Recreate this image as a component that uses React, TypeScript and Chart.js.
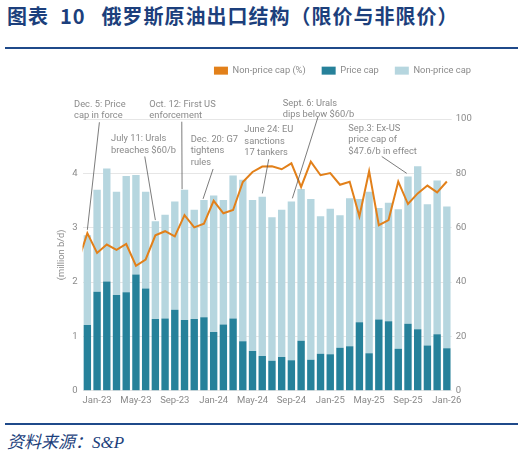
import React, { useEffect, useRef } from 'react';
import { Chart, registerables } from 'chart.js';

Chart.register(...registerables);

// ---------- data ----------
const MONTHS = [
  'Dec-22',
  'Jan-23', 'Feb-23', 'Mar-23', 'Apr-23', 'May-23', 'Jun-23', 'Jul-23', 'Aug-23', 'Sep-23', 'Oct-23', 'Nov-23', 'Dec-23',
  'Jan-24', 'Feb-24', 'Mar-24', 'Apr-24', 'May-24', 'Jun-24', 'Jul-24', 'Aug-24', 'Sep-24', 'Oct-24', 'Nov-24', 'Dec-24',
  'Jan-25', 'Feb-25', 'Mar-25', 'Apr-25', 'May-25', 'Jun-25', 'Jul-25', 'Aug-25', 'Sep-25', 'Oct-25', 'Nov-25', 'Dec-25',
  'Jan-26',
];

// million b/d
const PRICE_CAP = [
  1.21,
  1.82, 2.01, 1.76, 1.81, 2.14, 1.88, 1.32, 1.33, 1.49, 1.30, 1.32, 1.35,
  1.08, 1.22, 1.33, 0.91, 0.73, 0.64, 0.55, 0.62, 0.56, 0.92, 0.57, 0.68,
  0.67, 0.79, 0.82, 1.26, 0.69, 1.31, 1.28, 0.77, 1.23, 1.13, 0.83, 1.04,
  0.78,
];

const NON_PRICE_CAP = [
  1.65,
  1.88, 2.08, 1.90, 2.14, 1.83, 1.78, 1.80, 1.91, 1.99, 2.40, 2.01, 2.16,
  2.51, 2.29, 2.63, 2.97, 2.78, 2.93, 2.64, 2.71, 2.92, 2.79, 2.96, 2.53,
  2.68, 2.44, 2.72, 2.27, 2.97, 2.05, 2.18, 2.57, 2.71, 3.00, 2.60, 2.83,
  2.61,
];

// share of non-price-cap exports, %
const NON_PRICE_CAP_PCT = [
  58.0,
  50.7, 53.8, 51.8, 54.0, 46.0, 48.3, 57.2, 58.7, 56.8, 64.6, 60.1, 61.5,
  69.9, 65.3, 66.5, 76.8, 80.5, 82.5, 82.6, 81.5, 83.7, 75.0, 84.3, 79.3,
  80.1, 75.8, 76.9, 64.2, 80.8, 60.9, 62.8, 77.0, 68.7, 72.6, 75.5, 73.0,
  77.0,
];

// Nov-22 value: only its segment into the plot is visible (clipped at the left edge)
const LEAD_IN_PCT = 47;

const TICK_LABELS = ['Jan-23', 'May-23', 'Sep-23', 'Jan-24', 'May-24', 'Sep-24', 'Jan-25', 'May-25', 'Sep-25', 'Jan-26'];

const LEFT_TICKS_MAX = 5;
const RIGHT_TICKS_MAX = 100;

// annotations: text anchor / leader line in data units (x = month index, y = million b/d)
const NOTES = [
  { lines: ['Dec. 5: Price', 'cap in force'], text: [-1.37, 5.27], from: [1.24, 4.94], to: [0, 2.96] },
  { lines: ['Oct. 12: First US', 'enforcement'], text: [6.38, 5.27], from: [9.72, 4.95], to: [9.75, 3.71] },
  { lines: ['July 11: Urals', 'breaches $60/b'], text: [2.44, 4.63], from: [5.91, 4.31], to: [7.0, 3.14] },
  { lines: ['Dec. 20: G7', 'tightens', 'rules'], text: [10.64, 4.62], from: [12.94, 4.08], to: [11.91, 3.53] },
  { lines: ['June 24: EU', 'sanctions', '17 tankers'], text: [16.16, 4.80], from: [18.67, 4.26], to: [18.01, 3.63] },
  { lines: ['Sept. 6: Urals', 'dips below $60/b'], text: [20.11, 5.285], from: [23.74, 5.04], to: [21.1, 3.54] },
  { lines: ['Sep.3: Ex-US', 'price cap of', '$47.6/b in effect'], text: [26.86, 4.83], from: [30.3, 4.31], to: [32.87, 4.0] },
];

// ---------- styles ----------
const ORANGE = '#E2801A';
const TEAL = '#26819A';
const LIGHT = '#B6D6DF';
const GREY_TEXT = '#8a8a8a';
const GRID = '#e6e6e6';
const LEADER = '#5a5a5a';
const TITLE_BLUE = '#1C3F7C';
const RULE_BLUE = '#1F4A8A';
const FONT = 'Roboto';

const CANVAS_W = 487;
const CANVAS_H = 372;
const LEGEND_BLOCK_H = 69;
const LEFT_AXIS_W = 82.5;
const RIGHT_AXIS_W = 35.3;
const BOTTOM_AXIS_H = 31.3;
const NOTE_LINE_H = 11.5;

const legendSpacer = {
  id: 'legendSpacer',
  beforeLayout(chart: any) {
    const legend = chart.legend;
    if (legend && !legend.__spacer) {
      const fit = legend.fit;
      legend.fit = function () {
        fit.call(this);
        this.height = LEGEND_BLOCK_H;
      };
      legend.__spacer = true;
    }
  },
};

const notesPlugin = {
  id: 'notes',
  afterDraw(chart: any) {
    const { ctx } = chart;
    const x = chart.scales.x;
    const y = chart.scales.y;
    ctx.save();
    ctx.font = `9.3px ${FONT}`;
    ctx.fillStyle = GREY_TEXT;
    ctx.textAlign = 'left';
    ctx.textBaseline = 'middle';
    NOTES.forEach((n) => {
      const tx = x.getPixelForValue(n.text[0]);
      const ty = y.getPixelForValue(n.text[1]);
      n.lines.forEach((s, i) => ctx.fillText(s, tx, ty + i * NOTE_LINE_H));
      ctx.beginPath();
      ctx.moveTo(x.getPixelForValue(n.from[0]), y.getPixelForValue(n.from[1]));
      ctx.lineTo(x.getPixelForValue(n.to[0]), y.getPixelForValue(n.to[1]));
      ctx.strokeStyle = LEADER;
      ctx.lineWidth = 0.8;
      ctx.stroke();
    });
    ctx.restore();
  },
};

export default function App() {
  const ref = useRef<HTMLCanvasElement>(null);

  useEffect(() => {
    if (!ref.current) return;
    const lineData = [{ x: -1, y: LEAD_IN_PCT }].concat(
      NON_PRICE_CAP_PCT.map((v, i) => ({ x: i, y: v }))
    );
    const tickValues = TICK_LABELS.map((l) => MONTHS.indexOf(l));

    const chart = new Chart(ref.current, {
      type: 'bar',
      data: {
        datasets: [
          {
            type: 'line',
            label: 'Non-price cap (%)',
            data: lineData,
            xAxisID: 'x',
            yAxisID: 'y1',
            borderColor: ORANGE,
            backgroundColor: ORANGE,
            borderWidth: 2,
            pointRadius: 0,
            tension: 0,
          } as any,
          {
            type: 'bar',
            label: 'Price cap',
            data: PRICE_CAP.map((v, i) => ({ x: i, y: v })),
            xAxisID: 'x',
            yAxisID: 'y',
            backgroundColor: TEAL,
            categoryPercentage: 1,
            barPercentage: 0.76,
          } as any,
          {
            type: 'bar',
            label: 'Non-price cap',
            data: NON_PRICE_CAP.map((v, i) => ({ x: i, y: v })),
            xAxisID: 'x',
            yAxisID: 'y',
            backgroundColor: LIGHT,
            categoryPercentage: 1,
            barPercentage: 0.76,
          } as any,
        ],
      },
      options: {
        responsive: false,
        maintainAspectRatio: false,
        animation: false,
        layout: { padding: 0 },
        font: { family: FONT },
        plugins: {
          tooltip: { enabled: false },
          legend: {
            display: true,
            position: 'top',
            align: 'end',
            labels: {
              boxWidth: 14,
              boxHeight: 8,
              padding: 16,
              color: GREY_TEXT,
              font: { family: FONT, size: 9.3 },
              generateLabels: (c: any) =>
                c.data.datasets.map((ds: any, i: number) => ({
                  text: ds.label,
                  fillStyle: ds.backgroundColor,
                  strokeStyle: ds.backgroundColor,
                  lineWidth: 0,
                  hidden: false,
                  datasetIndex: i,
                  fontColor: GREY_TEXT,
                })),
            },
          },
        },
        scales: {
          x: {
            type: 'linear',
            min: -0.5,
            max: MONTHS.length - 0.5,
            offset: false,
            stacked: true,
            grid: { display: false, drawTicks: false, offset: false },
            border: { display: false },
            afterBuildTicks: (scale: any) => {
              scale.ticks = tickValues.map((v) => ({ value: v }));
            },
            afterFit: (scale: any) => {
              scale.height = BOTTOM_AXIS_H;
            },
            ticks: {
              autoSkip: false,
              maxRotation: 0,
              padding: 4,
              color: GREY_TEXT,
              font: { family: FONT, size: 9.5 },
              callback: (v: any) => MONTHS[v] ?? '',
            },
          },
          y: {
            type: 'linear',
            position: 'left',
            stacked: true,
            min: 0,
            max: LEFT_TICKS_MAX,
            grid: { color: GRID, drawTicks: false, lineWidth: 1 },
            border: { display: false },
            afterFit: (scale: any) => {
              scale.width = LEFT_AXIS_W;
            },
            title: {
              display: true,
              text: '(million b/d)',
              color: GREY_TEXT,
              font: { family: FONT, size: 9.3 },
              padding: { top: 56, bottom: 0 },
            },
            ticks: {
              stepSize: 1,
              padding: 5,
              color: GREY_TEXT,
              font: { family: FONT, size: 9.5 },
              callback: (v: any) => (v === LEFT_TICKS_MAX ? '' : String(v)),
            },
          },
          y1: {
            type: 'linear',
            position: 'right',
            min: 0,
            max: RIGHT_TICKS_MAX,
            grid: { display: false, drawTicks: false },
            border: { display: false },
            afterFit: (scale: any) => {
              scale.width = RIGHT_AXIS_W;
            },
            ticks: {
              stepSize: 20,
              padding: 4,
              color: GREY_TEXT,
              font: { family: FONT, size: 9.5 },
            },
          },
        },
      } as any,
      plugins: [legendSpacer, notesPlugin],
    });
    return () => chart.destroy();
  }, []);

  return (
    <div
      style={{
        position: 'absolute',
        left: 0,
        top: 0,
        width: 524,
        height: 459,
        background: '#fff',
        overflow: 'hidden',
      }}
    >
      <div
        style={{
          position: 'absolute',
          left: 7,
          top: 6,
          fontFamily: "'Noto Sans CJK SC', sans-serif",
          fontWeight: 700,
          fontSize: 20,
          lineHeight: '20px',
          letterSpacing: 1,
          color: TITLE_BLUE,
          whiteSpace: 'nowrap',
        }}
      >
        <span>图表</span>
        <span style={{ marginLeft: 11 }}>10</span>
        <span style={{ marginLeft: 16 }}>俄罗斯原油出口结构（限价与非限价）</span>
      </div>
      <div style={{ position: 'absolute', left: 5, top: 47, width: 513, height: 2, background: RULE_BLUE }} />
      <canvas
        ref={ref}
        width={CANVAS_W}
        height={CANVAS_H}
        style={{ position: 'absolute', left: 0, top: 50, width: CANVAS_W, height: CANVAS_H }}
      />
      <div style={{ position: 'absolute', left: 5, top: 423, width: 513, height: 2, background: RULE_BLUE }} />
      <div
        style={{
          position: 'absolute',
          left: 7,
          top: 434,
          fontFamily: "'Liberation Serif', 'Noto Sans CJK SC', serif",
          fontStyle: 'italic',
          fontSize: 17,
          lineHeight: '17px',
          color: TITLE_BLUE,
          whiteSpace: 'nowrap',
        }}
      >
        资料来源：S&amp;P
      </div>
    </div>
  );
}
